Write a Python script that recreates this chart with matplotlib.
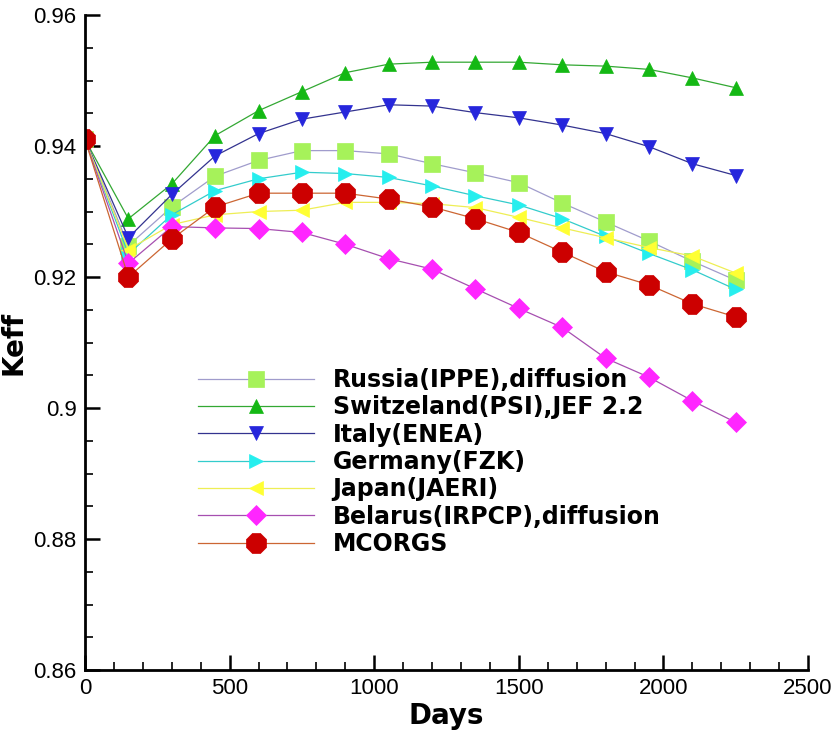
import matplotlib
matplotlib.use("Agg")
import matplotlib.pyplot as plt
from matplotlib.ticker import MultipleLocator

days = [0, 150, 300, 450, 600, 750, 900, 1050, 1200, 1350, 1500, 1650, 1800, 1950, 2100, 2250]

russia = [0.941, 0.9248, 0.9307, 0.9354, 0.9378, 0.9393, 0.9393, 0.9388, 0.9373, 0.9359,
          0.9344, 0.9313, 0.9284, 0.9255, 0.9224, 0.9195]
swiss = [0.941, 0.9289, 0.9342, 0.9416, 0.9454, 0.9483, 0.9512, 0.9525, 0.9528, 0.9528,
         0.9528, 0.9524, 0.9522, 0.9517, 0.9504, 0.9489]
italy = [0.941, 0.9260, 0.9326, 0.9385, 0.9419, 0.9441, 0.9452, 0.9463, 0.9461, 0.9451,
         0.9443, 0.9432, 0.9419, 0.9399, 0.9373, 0.9355]
germany = [0.941, 0.9235, 0.9295, 0.9332, 0.9350, 0.9360, 0.9358, 0.9352, 0.9339, 0.9324,
           0.9310, 0.9289, 0.9262, 0.9236, 0.9211, 0.9181]
japan = [0.941, 0.9242, 0.9280, 0.9295, 0.9300, 0.9302, 0.9314, 0.9314, 0.9312, 0.9306,
         0.9291, 0.9275, 0.9260, 0.9245, 0.9232, 0.9206]
belarus = [0.941, 0.9221, 0.9277, 0.9275, 0.9274, 0.9268, 0.9250, 0.9228, 0.9212, 0.9182,
           0.9152, 0.9123, 0.9076, 0.9047, 0.9011, 0.8978]
mcorgs = [0.941, 0.9200, 0.9258, 0.9307, 0.9328, 0.9328, 0.9328, 0.9319, 0.9307, 0.9289,
          0.9268, 0.9238, 0.9208, 0.9188, 0.9159, 0.9139]

labels = ["Russia(IPPE),diffusion", "Switzeland(PSI),JEF 2.2", "Italy(ENEA)",
          "Germany(FZK)", "Japan(JAERI)", "Belarus(IRPCP),diffusion", "MCORGS"]
xticks = [0, 500, 1000, 1500, 2000, 2500]
yticks = [0.86, 0.88, 0.9, 0.92, 0.94, 0.96]
ytick_labels = ["0.86", "0.88", "0.9", "0.92", "0.94", "0.96"]

series = [russia, swiss, italy, germany, japan, belarus, mcorgs]
markers = ["s", "^", "v", ">", "<", "D", "8"]
msizes = [11, 10.5, 10.5, 10.5, 10.5, 10, 16]
mcolors = ["#a6f25a", "#14b814", "#2626dc", "#26eeee", "#ffff33", "#ff26ff", "#cc0000"]
lcolors = ["#a09ccc", "#33a833", "#33338f", "#33cccc", "#eeee55", "#a64fb0", "#cc6633"]

fig = plt.figure(figsize=(8.35, 7.37), dpi=100)
ax = fig.add_axes([0.1018, 0.0909, 0.866, 0.8887])

for y, lab, m, ms, mc, lc in zip(series, labels, markers, msizes, mcolors, lcolors):
    ax.plot(days, y, color=lc, lw=0.9, marker=m, markersize=ms,
            markerfacecolor=mc, markeredgecolor=mc, markeredgewidth=0.5, label=lab)

ax.set_xlim(0, 2500)
ax.set_ylim(0.86, 0.96)
ax.set_xticks(xticks)
ax.set_yticks(yticks)
ax.set_yticklabels(ytick_labels)
ax.xaxis.set_minor_locator(MultipleLocator(100))
ax.yaxis.set_minor_locator(MultipleLocator(0.005))
for s in ["top", "right"]:
    ax.spines[s].set_visible(False)
for s in ["left", "bottom"]:
    ax.spines[s].set_linewidth(2.0)
ax.tick_params(which="major", direction="in", length=11, width=1.8,
               labelsize=16, pad=6)
ax.tick_params(which="minor", direction="in", length=6, width=1.2)
for t in ax.get_xticklabels() + ax.get_yticklabels():
    t.set_family("Liberation Sans")

ax.set_xlabel("Days", fontsize=20, fontweight="bold", family="DejaVu Sans", labelpad=2)
ax.set_ylabel("Keff", fontsize=20, fontweight="bold", family="DejaVu Sans", labelpad=4)

leg = ax.legend(loc="upper left", bbox_to_anchor=(198 / 835, 1 - 368 / 737),
                bbox_transform=fig.transFigure, frameon=False,
                prop={"family": "DejaVu Sans", "weight": "bold", "size": 17},
                handlelength=4.9, handletextpad=0.8, labelspacing=0.14,
                borderpad=0, borderaxespad=0, numpoints=1)

fig.savefig("out.png", dpi=100)
